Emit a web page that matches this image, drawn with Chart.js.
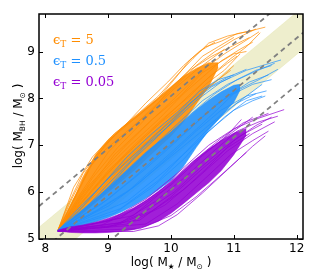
<!DOCTYPE html>
<html>
<head>
<meta charset="utf-8">
<script src="https://cdn.jsdelivr.net/npm/chart.js@4.4.1/dist/chart.umd.min.js"></script>
<style>html,body{margin:0;padding:0;background:#fff}</style>
</head>
<body>
<canvas id="c" width="330" height="275"></canvas>
<script>
const xTicks = [8, 9, 10, 11, 12];
const yTicks = [5, 6, 7, 8, 9];

// dashed relations and the shaded band (end points)
const relX = [7.9, 12.1];
const relUpper = [5.70, 10.40];
const relMiddle = [4.70, 9.40];
const relLower = [3.70, 8.40];
const bandHi = [5.25, 9.95];
const bandLo = [4.35, 9.05];

// dense cores of each family of tracks
const orangeX  = [8.2, 8.3, 8.4, 8.5, 8.6, 8.8, 9.0, 9.2, 9.4, 9.6, 9.8, 10.0, 10.2, 10.4, 10.6, 10.75];
const orangeHi = [5.18, 5.45, 5.72, 6.0, 6.3, 6.8, 7.12, 7.36, 7.58, 7.8, 8.02, 8.25, 8.47, 8.64, 8.76, 8.76];
const orangeLo = [5.18, 5.25, 5.33, 5.43, 5.55, 5.78, 6.0, 6.22, 6.45, 6.7, 6.95, 7.2, 7.5, 7.88, 8.25, 8.66];

const blueX  = [8.2, 8.4, 8.6, 8.8, 9.0, 9.2, 9.4, 9.6, 9.8, 10.0, 10.2, 10.4, 10.6, 10.8, 11.0, 11.1];
const blueHi = [5.18, 5.4, 5.62, 5.86, 6.1, 6.35, 6.6, 6.85, 7.07, 7.28, 7.52, 7.75, 7.96, 8.14, 8.28, 8.3];
const blueLo = [5.18, 5.23, 5.29, 5.37, 5.46, 5.57, 5.71, 5.87, 6.05, 6.25, 6.55, 6.95, 7.32, 7.62, 7.92, 8.18];

const purpleX  = [8.2, 8.4, 8.6, 8.8, 9.0, 9.2, 9.4, 9.6, 9.8, 10.0, 10.2, 10.4, 10.6, 10.8, 11.0, 11.2];
const purpleHi = [5.19, 5.26, 5.3, 5.36, 5.44, 5.54, 5.66, 5.82, 6.02, 6.22, 6.46, 6.7, 6.92, 7.1, 7.26, 7.36];
const purpleLo = [5.17, 5.14, 5.13, 5.13, 5.14, 5.16, 5.2, 5.27, 5.38, 5.55, 5.76, 5.98, 6.2, 6.46, 6.8, 7.22];

// single tracks, mostly the sparse outer ones
const orangeTracks = [
  [[8.2,5.18],[8.45,5.85],[8.7,6.5],[8.95,7.0],[9.2,7.35],[9.5,7.7],[9.8,8.05],[10.1,8.5],[10.35,8.85],[10.6,9.18],[10.9,9.33],[11.2,9.42],[11.5,9.52]],
  [[8.2,5.18],[8.5,5.95],[8.8,6.75],[9.1,7.2],[9.45,7.6],[9.8,8.0],[10.05,8.4],[10.3,8.82],[10.55,9.1],[10.8,9.22],[11.05,9.38],[11.3,9.45]],
  [[8.2,5.18],[8.6,6.05],[9.0,6.85],[9.4,7.4],[9.75,7.85],[10.1,8.3],[10.4,8.7],[10.7,9.0],[11.0,9.25],[11.35,9.48]],
  [[8.2,5.18],[8.65,6.0],[9.1,6.8],[9.5,7.3],[9.9,7.8],[10.25,8.25],[10.55,8.65],[10.85,8.95],[11.15,9.2],[11.4,9.42]],
  [[8.2,5.18],[8.7,5.95],[9.2,6.7],[9.6,7.2],[10.0,7.7],[10.35,8.15],[10.65,8.5],[10.95,8.85],[11.2,9.1],[11.42,9.4]],
  [[8.2,5.18],[8.8,5.95],[9.3,6.65],[9.8,7.3],[10.2,7.8],[10.55,8.3],[10.85,8.6],[11.1,8.95]],
  [[8.2,5.18],[8.55,5.75],[9.0,6.45],[9.45,7.05],[9.9,7.6],[10.3,8.05],[10.6,8.45],[10.9,8.75],[11.05,8.9]],
  [[8.2,5.18],[8.35,5.7],[8.6,6.4],[8.9,6.95],[9.25,7.4],[9.6,7.9],[9.95,8.35],[10.2,8.7],[10.45,9.0],[10.7,9.2]],
  [[8.2,5.18],[8.75,6.3],[9.15,6.95],[9.55,7.5],[9.95,8.15],[10.3,8.6],[10.65,8.9],[10.95,9.1],[11.25,9.3]],
  [[8.2,5.18],[8.6,5.7],[9.0,6.3],[9.5,6.95],[9.95,7.45],[10.4,8.0],[10.75,8.4],[11.0,8.7]],
  [[8.2,5.18],[8.4,5.8],[8.65,6.45],[8.95,6.9],[9.3,7.3],[9.7,7.75],[10.05,8.2],[10.4,8.6],[10.65,8.85],[10.85,9.05]],
  [[8.2,5.18],[8.9,6.4],[9.35,7.0],[9.8,7.55],[10.2,8.1],[10.5,8.45],[10.8,8.8],[11.1,9.05],[11.3,9.2]],
  [[8.2,5.18],[8.7,6.15],[9.25,6.95],[9.7,7.55],[10.15,8.05],[10.5,8.55],[10.75,8.75],[11.0,8.95],[11.2,9.0]],
  [[8.2,5.18],[8.5,5.65],[8.95,6.35],[9.4,6.95],[9.85,7.5],[10.3,7.95],[10.65,8.3],[10.95,8.6]],
  [[8.2,5.18],[8.45,6.1],[8.75,6.75],[9.1,7.25],[9.5,7.65],[9.9,8.1],[10.25,8.55],[10.5,8.9],[10.75,9.1],[11.0,9.3]]
];
const blueTracks = [
  [[8.2,5.18],[8.7,5.75],[9.2,6.45],[9.6,7.0],[10.0,7.45],[10.4,7.95],[10.8,8.35],[11.2,8.6],[11.5,8.72],[11.75,8.82]],
  [[8.2,5.18],[8.8,5.8],[9.3,6.4],[9.7,6.95],[10.1,7.45],[10.5,7.95],[10.9,8.3],[11.3,8.55],[11.65,8.75]],
  [[8.2,5.18],[8.9,5.75],[9.4,6.3],[9.9,6.9],[10.3,7.35],[10.7,7.85],[11.1,8.2],[11.4,8.4],[11.7,8.62]],
  [[8.2,5.18],[9.0,5.7],[9.5,6.2],[10.0,6.8],[10.4,7.3],[10.8,7.75],[11.2,8.05],[11.52,8.16]],
  [[8.2,5.18],[8.6,5.6],[9.0,6.1],[9.4,6.7],[9.8,7.2],[10.2,7.75],[10.55,8.2],[10.9,8.45],[11.2,8.62]],
  [[8.2,5.18],[9.1,5.55],[9.7,6.1],[10.2,6.7],[10.6,7.3],[11.0,7.75],[11.3,7.95],[11.5,8.05]],
  [[8.2,5.18],[8.5,5.55],[8.9,6.15],[9.3,6.75],[9.7,7.25],[10.1,7.7],[10.45,8.15],[10.75,8.4],[11.0,8.5]],
  [[8.2,5.18],[9.2,5.65],[9.8,6.25],[10.3,6.95],[10.7,7.5],[11.05,7.9],[11.35,8.1]],
  [[8.2,5.18],[8.8,5.6],[9.4,6.1],[9.9,6.65],[10.4,7.2],[10.8,7.65],[11.15,8.0],[11.45,8.3]],
  [[8.2,5.18],[8.9,5.95],[9.4,6.55],[9.85,7.1],[10.3,7.65],[10.7,8.1],[11.05,8.4],[11.35,8.6],[11.6,8.7]],
  [[8.2,5.18],[9.0,5.85],[9.6,6.5],[10.1,7.1],[10.5,7.6],[10.9,8.05],[11.25,8.35],[11.55,8.5]],
  [[8.2,5.18],[9.3,5.8],[9.9,6.45],[10.4,7.05],[10.85,7.6],[11.2,7.95],[11.45,8.05]],
  [[8.2,5.18],[8.7,5.5],[9.3,6.0],[9.8,6.6],[10.25,7.15],[10.65,7.65],[11.0,8.1],[11.3,8.3],[11.6,8.4]],
  [[8.2,5.18],[8.6,5.75],[9.05,6.35],[9.5,6.9],[9.9,7.4],[10.3,7.9],[10.65,8.25],[10.95,8.45]]
];
const purpleTracks = [
  [[8.2,5.17],[9.0,5.38],[9.6,5.85],[10.1,6.4],[10.6,7.0],[11.0,7.35],[11.4,7.58],[11.8,7.76]],
  [[8.2,5.17],[9.2,5.45],[9.8,6.0],[10.3,6.6],[10.8,7.15],[11.15,7.48],[11.55,7.68]],
  [[8.2,5.17],[9.3,5.32],[9.9,5.72],[10.4,6.28],[10.9,6.88],[11.3,7.25],[11.65,7.5]],
  [[8.2,5.17],[9.5,5.4],[10.0,5.9],[10.5,6.5],[10.9,6.95],[11.25,7.25]],
  [[8.2,5.16],[9.5,5.22],[10.0,5.5],[10.4,5.9],[10.7,6.25],[10.95,6.55],[11.2,6.85]],
  [[8.2,5.17],[8.9,5.3],[9.5,5.68],[10.0,6.15],[10.5,6.78],[10.9,7.22],[11.12,7.55]],
  [[8.2,5.16],[9.4,5.16],[9.8,5.28],[10.1,5.52],[10.5,5.98],[10.9,6.48],[11.3,6.98],[11.5,7.2]],
  [[8.2,5.17],[9.1,5.28],[9.7,5.6],[10.2,6.05],[10.6,6.55],[11.0,7.1],[11.35,7.42],[11.6,7.6]],
  [[8.2,5.17],[9.2,5.35],[9.75,5.8],[10.25,6.35],[10.7,6.9],[11.05,7.3],[11.4,7.5],[11.7,7.62]],
  [[8.2,5.16],[9.6,5.32],[10.1,5.75],[10.55,6.3],[10.95,6.8],[11.3,7.1],[11.55,7.3]],
  [[8.2,5.17],[9.0,5.25],[9.55,5.55],[10.05,6.0],[10.45,6.5],[10.8,6.9],[11.1,7.2],[11.45,7.45]],
  [[8.2,5.17],[9.4,5.5],[9.9,6.05],[10.35,6.65],[10.75,7.05],[11.1,7.4],[11.3,7.6]]
];

const legendItems = [
  { label: '5', color: '#ff8c00' },
  { label: '0.5', color: '#1e90ff' },
  { label: '0.05', color: '#9400d3' }
];

const pts = (xs, ys) => xs.map((x, i) => ({ x: x, y: ys[i] }));
const pairs = (p) => p.map(([x, y]) => ({ x: x, y: y }));

const datasets = [];

function addBand(xs, hi, lo, fillColor, order) {
  datasets.push({ data: pts(xs, hi), fill: '+1', backgroundColor: fillColor,
    borderColor: fillColor, borderWidth: 0.6, order: order });
  datasets.push({ data: pts(xs, lo), fill: false, borderColor: fillColor,
    borderWidth: 0.6, order: order });
}

function addGroup(xs, hi, lo, tracks, rgb, order) {
  addBand(xs, hi, lo, 'rgba(' + rgb + ',0.88)', order + 0.5);
  tracks.forEach(t => datasets.push({
    data: pairs(t), fill: false, borderColor: 'rgba(' + rgb + ',0.7)',
    borderWidth: 1, order: order
  }));
}

// higher order = drawn earlier (underneath)
addBand(relX, bandHi, bandLo, 'rgba(220,220,150,0.48)', 10);
addGroup(orangeX, orangeHi, orangeLo, orangeTracks, '255,140,0', 7);
addGroup(blueX, blueHi, blueLo, blueTracks, '30,144,255', 5);
addGroup(purpleX, purpleHi, purpleLo, purpleTracks, '148,0,211', 3);
[relUpper, relMiddle, relLower].forEach(r => datasets.push({
  data: pts(relX, r), fill: false, borderColor: '#808080', borderWidth: 1.8,
  borderDash: [5, 4], order: 0
}));

function drawParts(ctx, x, y, parts, align) {
  let total = 0;
  parts.forEach(p => { ctx.font = p.f; p.w = ctx.measureText(p.t).width; total += p.w; });
  let cx = align === 'center' ? x - total / 2 : x;
  parts.forEach(p => {
    ctx.font = p.f;
    ctx.fillText(p.t, cx, y + (p.dy || 0));
    cx += p.w;
  });
}

const framePlugin = {
  id: 'frame',
  afterDraw(chart) {
    const { ctx, chartArea: a, scales: { x, y } } = chart;
    ctx.save();
    ctx.strokeStyle = '#000';
    ctx.lineWidth = 1;
    ctx.beginPath();
    xTicks.forEach(v => {
      const px = Math.round(x.getPixelForValue(v)) + 0.5;
      ctx.moveTo(px, a.bottom); ctx.lineTo(px, a.bottom - 4);
      ctx.moveTo(px, a.top); ctx.lineTo(px, a.top + 4);
    });
    yTicks.forEach(v => {
      const py = Math.round(y.getPixelForValue(v)) + 0.5;
      ctx.moveTo(a.left, py); ctx.lineTo(a.left + 4, py);
      ctx.moveTo(a.right, py); ctx.lineTo(a.right - 4, py);
    });
    ctx.stroke();
    ctx.lineWidth = 1.5;
    ctx.strokeRect(a.left, a.top, a.right - a.left, a.bottom - a.top);

    // legend labels
    ctx.textBaseline = 'alphabetic';
    ctx.textAlign = 'left';
    legendItems.forEach((it, i) => {
      ctx.fillStyle = it.color;
      drawParts(ctx, 53, 44 + i * 21, [
        { t: '\u03f5', f: '13px "DejaVu Serif"' },
        { t: 'T', f: '9px "DejaVu Serif"', dy: 3 },
        { t: ' = ' + it.label, f: '13px "DejaVu Serif"' }
      ]);
    });

    // axis titles
    ctx.fillStyle = '#000';
    const big = '12px "DejaVu Sans"', small = '7.5px "DejaVu Sans"';
    drawParts(ctx, (a.left + a.right) / 2, 266, [
      { t: 'log( M', f: big }, { t: '\u2605', f: small, dy: 2.5 },
      { t: ' / M', f: big }, { t: '\u2299', f: small, dy: 2.5 }, { t: ' )', f: big }
    ], 'center');
    ctx.translate(22, 126);
    ctx.rotate(-Math.PI / 2);
    drawParts(ctx, 0, 0, [
      { t: 'log( M', f: big }, { t: 'BH', f: small, dy: 2.5 },
      { t: ' / M', f: big }, { t: '\u2299', f: small, dy: 2.5 }, { t: ' )', f: big }
    ], 'center');
    ctx.restore();
  }
};

const tickFont = { family: 'DejaVu Sans', size: 12 };

new Chart(document.getElementById('c'), {
  type: 'line',
  data: { datasets: datasets },
  options: {
    responsive: false,
    animation: false,
    devicePixelRatio: 1,
    layout: { padding: { left: 0, right: 27, top: 14, bottom: 0 } },
    plugins: { legend: { display: false }, tooltip: { enabled: false } },
    elements: { point: { radius: 0 }, line: { tension: 0 } },
    scales: {
      x: {
        type: 'linear', min: 7.9, max: 12.1,
        afterBuildTicks: s => { s.ticks = xTicks.map(v => ({ value: v })); },
        afterFit: s => { s.height = 36; },
        grid: { display: false, drawTicks: false },
        border: { display: false },
        ticks: { padding: 3, font: tickFont, color: '#000', maxRotation: 0 }
      },
      y: {
        type: 'linear', min: 5, max: 9.8,
        afterBuildTicks: s => { s.ticks = yTicks.map(v => ({ value: v })); },
        afterFit: s => { s.width = 39; },
        grid: { display: false, drawTicks: false },
        border: { display: false },
        ticks: { padding: 4, font: tickFont, color: '#000' }
      }
    }
  },
  plugins: [framePlugin]
});
</script>
</body>
</html>
